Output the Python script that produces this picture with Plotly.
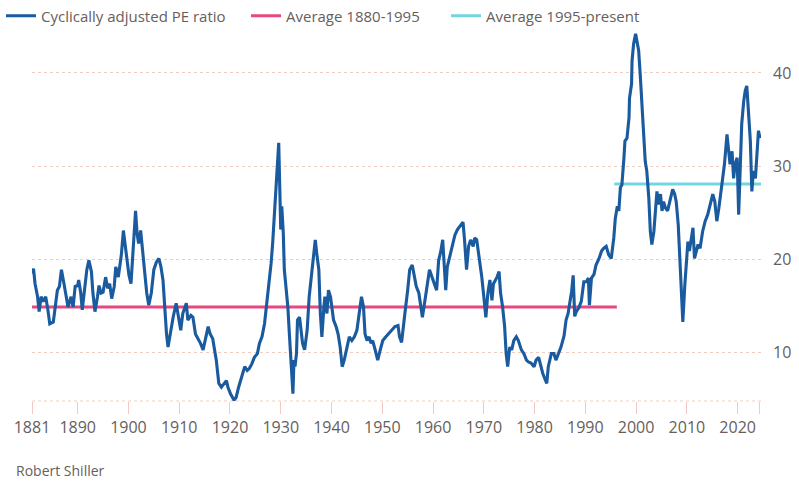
import plotly.graph_objects as go

# ---- data ----
years = [
    1881.0, 1881.3, 1881.6, 1882.1, 1882.4, 1882.8, 1883.2, 1883.7, 1884.1, 1884.5,
    1885.2, 1885.6, 1886.0, 1886.4, 1886.8, 1887.3, 1887.6, 1888.1, 1888.7, 1889.1,
    1889.5, 1890.0, 1890.2, 1890.6, 1890.9, 1891.4, 1891.8, 1892.2, 1892.7, 1893.0,
    1893.4, 1893.9, 1894.2, 1894.6, 1895.0, 1895.5, 1895.9, 1896.3, 1896.7, 1897.2,
    1897.5, 1898.0, 1898.3, 1898.6, 1899.0, 1899.4, 1899.8, 1900.1, 1900.5, 1900.8,
    1901.1, 1901.4, 1901.7, 1902.0, 1902.4, 1902.7, 1903.1, 1903.6, 1904.0, 1904.5,
    1905.0, 1905.5, 1906.0, 1906.4, 1906.8, 1907.1, 1907.5, 1907.8, 1908.3, 1908.8,
    1909.4, 1909.9, 1910.3, 1910.7, 1911.4, 1911.7, 1912.3, 1912.7, 1913.2, 1913.7,
    1914.2, 1914.7, 1915.1, 1915.7, 1916.1, 1916.6, 1917.3, 1917.8, 1918.3, 1918.8,
    1919.3, 1919.6, 1920.1, 1920.8, 1921.2, 1921.7, 1922.3, 1922.9, 1923.4, 1923.8,
    1924.3, 1924.8, 1925.4, 1925.8, 1926.3, 1926.8, 1927.3, 1927.8, 1928.1, 1928.4,
    1928.8, 1929.1, 1929.3, 1929.6, 1929.8, 1930.0, 1930.2, 1930.5, 1930.7, 1931.1,
    1931.4, 1931.7, 1932.0, 1932.4, 1932.6, 1932.8, 1933.1, 1933.3, 1933.7, 1934.0,
    1934.3, 1934.7, 1935.2, 1935.6, 1936.0, 1936.4, 1936.8, 1937.1, 1937.5, 1937.8,
    1938.1, 1938.5, 1938.7, 1939.1, 1939.4, 1939.8, 1940.1, 1940.4, 1940.9, 1941.3,
    1941.7, 1942.1, 1942.5, 1943.0, 1943.5, 1944.0, 1944.5, 1945.0, 1945.5, 1945.9,
    1946.3, 1946.6, 1947.0, 1947.4, 1947.8, 1948.1, 1948.6, 1949.1, 1949.6, 1950.1,
    1950.7, 1951.2, 1951.8, 1952.5, 1953.1, 1953.4, 1953.8, 1954.1, 1954.6, 1955.0,
    1955.4, 1955.9, 1956.3, 1956.7, 1957.2, 1957.6, 1957.9, 1958.4, 1958.9, 1959.3,
    1959.8, 1960.2, 1960.7, 1961.1, 1961.5, 1961.9, 1962.3, 1962.5, 1962.8, 1963.3,
    1963.7, 1964.3, 1964.8, 1965.2, 1965.9, 1966.2, 1966.6, 1967.0, 1967.4, 1967.9,
    1968.2, 1968.6, 1968.9, 1969.2, 1969.6, 1970.0, 1970.4, 1970.8, 1971.2, 1971.6,
    1971.9, 1972.3, 1972.6, 1973.0, 1973.3, 1973.7, 1974.1, 1974.4, 1974.7, 1975.1,
    1975.5, 1975.9, 1976.4, 1976.8, 1977.4, 1977.9, 1978.4, 1978.8, 1979.3, 1979.9,
    1980.3, 1980.8, 1981.2, 1981.6, 1982.1, 1982.4, 1982.7, 1983.3, 1983.8, 1984.2,
    1984.7, 1985.2, 1985.8, 1986.2, 1986.6, 1987.0, 1987.3, 1987.6, 1987.9, 1988.2,
    1988.7, 1989.2, 1989.7, 1990.2, 1990.6, 1990.8, 1991.2, 1991.7, 1992.1, 1992.7,
    1993.2, 1993.6, 1994.1, 1994.6, 1995.1, 1995.6, 1995.9, 1996.3, 1996.6, 1996.9,
    1997.2, 1997.6, 1997.8, 1998.2, 1998.6, 1998.7, 1999.1, 1999.2, 1999.5, 1999.9,
    2000.2, 2000.5, 2000.8, 2001.2, 2001.5, 2001.8, 2002.1, 2002.5, 2002.8, 2003.1,
    2003.5, 2003.8, 2004.1, 2004.4, 2004.8, 2005.1, 2005.4, 2005.8, 2006.2, 2006.5,
    2006.9, 2007.2, 2007.6, 2007.9, 2008.3, 2008.6, 2008.9, 2009.2, 2009.6, 2009.9,
    2010.2, 2010.5, 2010.9, 2011.2, 2011.5, 2011.9, 2012.2, 2012.6, 2013.1, 2013.6,
    2014.1, 2014.6, 2015.1, 2015.5, 2015.9, 2016.3, 2016.7, 2017.0, 2017.4, 2017.9,
    2018.2, 2018.5, 2018.9, 2019.2, 2019.5, 2019.9, 2020.2, 2020.5, 2020.8, 2021.2,
    2021.5, 2021.8, 2022.1, 2022.5, 2022.8, 2023.1, 2023.5, 2023.8, 2024.1, 2024.4,
]
cape = [
    18.5, 19.0, 17.4, 16.0, 14.4, 16.0, 15.5, 16.0, 14.7, 13.1,
    13.3, 14.9, 16.7, 17.1, 18.9, 17.4, 16.4, 14.9, 16.0, 14.9,
    17.1, 17.2, 17.8, 16.4, 14.6, 16.7, 18.9, 19.9, 18.7, 16.4,
    14.4, 16.0, 17.2, 16.4, 16.5, 18.1, 16.9, 17.4, 15.8, 17.1,
    19.2, 18.1, 19.2, 20.5, 23.1, 21.4, 19.2, 18.3, 17.4, 20.3,
    23.1, 25.2, 22.8, 21.7, 23.1, 21.4, 19.6, 16.4, 15.1, 16.4,
    18.9, 19.7, 20.1, 19.2, 17.8, 14.9, 12.0, 10.6, 12.4, 13.8,
    15.3, 13.8, 12.4, 14.2, 15.3, 13.5, 14.0, 13.8, 12.0, 11.5,
    11.0, 10.3, 11.3, 12.8, 12.0, 11.5, 9.2, 6.7, 6.3, 6.7,
    7.0, 6.3, 5.6, 4.9, 5.2, 6.3, 7.4, 8.5, 8.1, 8.3,
    8.8, 9.5, 9.9, 11.0, 11.7, 13.1, 15.6, 17.8, 19.6, 21.7,
    25.3, 27.8, 29.6, 32.5, 27.8, 23.2, 25.7, 22.8, 18.9, 16.4,
    14.9, 12.0, 9.2, 5.6, 9.2, 8.5, 9.9, 13.5, 13.8, 12.0,
    11.0, 10.3, 12.4, 16.0, 18.1, 19.9, 22.1, 20.6, 18.9, 14.2,
    11.7, 14.9, 16.0, 14.2, 16.7, 16.0, 14.6, 13.5, 12.8, 12.0,
    10.6, 8.5, 9.2, 10.6, 11.7, 11.3, 11.7, 12.4, 14.2, 16.0,
    14.9, 12.0, 11.3, 11.7, 11.0, 11.3, 10.3, 9.2, 10.3, 11.3,
    11.7, 12.0, 12.4, 12.8, 12.9, 11.7, 11.1, 12.8, 14.9, 16.7,
    18.9, 19.4, 18.1, 17.1, 16.4, 14.9, 13.8, 15.6, 17.8, 18.9,
    18.1, 17.4, 16.7, 19.9, 20.8, 22.1, 18.1, 16.7, 19.2, 20.3,
    21.4, 22.6, 23.2, 23.5, 24.0, 22.1, 18.9, 21.4, 22.1, 21.4,
    22.3, 22.1, 21.0, 19.6, 18.1, 16.0, 13.8, 16.4, 17.8, 15.6,
    17.4, 17.8, 18.1, 18.7, 16.4, 14.9, 12.8, 9.9, 8.5, 10.6,
    10.3, 11.3, 11.7, 11.3, 10.3, 9.9, 9.2, 9.0, 8.9, 8.5,
    9.2, 9.5, 8.5, 7.8, 7.1, 6.7, 8.5, 9.9, 9.9, 9.2,
    9.9, 10.6, 11.8, 13.5, 14.2, 15.5, 16.6, 18.3, 13.9, 14.4,
    14.8, 15.5, 17.6, 17.6, 18.0, 15.1, 18.0, 18.4, 19.4, 20.1,
    20.9, 21.2, 21.4, 20.5, 20.1, 22.3, 24.4, 25.7, 25.2, 27.7,
    28.0, 30.9, 32.7, 33.0, 35.2, 37.3, 38.8, 41.3, 43.1, 44.2,
    43.4, 42.4, 39.9, 36.3, 33.0, 30.5, 29.5, 26.6, 23.0, 21.6,
    23.0, 25.5, 27.3, 25.9, 27.0, 25.2, 26.2, 25.5, 25.2, 25.9,
    27.0, 27.5, 27.0, 26.2, 23.7, 20.1, 15.8, 13.3, 17.3, 20.1,
    21.9, 20.9, 22.3, 23.4, 20.1, 20.9, 21.6, 21.2, 23.0, 24.1,
    24.8, 25.9, 27.0, 26.2, 24.1, 25.5, 27.3, 28.7, 30.2, 33.4,
    32.0, 30.2, 31.6, 28.7, 30.2, 30.9, 24.8, 30.9, 34.5, 37.0,
    38.1, 38.6, 35.9, 32.7, 27.3, 29.5, 28.7, 30.9, 33.8, 33.0,
]

avg_early_years = [1881.0, 1996.2]
avg_early_value = [14.9, 14.9]
avg_late_years = [1995.7, 2024.6]
avg_late_value = [28.1, 28.1]

x_tickvals = [1881, 1890, 1900, 1910, 1920, 1930, 1940, 1950, 1960, 1970,
              1980, 1990, 2000, 2010, 2020, 2024.3]
x_ticktext = ["1881", "1890", "1900", "1910", "1920", "1930", "1940", "1950",
              "1960", "1970", "1980", "1990", "2000", "2010", "2020", ""]
y_tickvals = [10, 20, 30, 40]

# ---- styles ----
FONT = "Open Sans"
TEXT = "#66605c"
BLUE = "#1a5a9e"
PINK = "#e8477f"
CYAN = "#72d5e0"

fig = go.Figure()
fig.add_trace(go.Scatter(
    x=avg_early_years, y=avg_early_value, mode="lines", name="Average 1880-1995",
    line=dict(color=PINK, width=3), legend="legend2", hoverinfo="skip"))
fig.add_trace(go.Scatter(
    x=avg_late_years, y=avg_late_value, mode="lines", name="Average 1995-present",
    line=dict(color=CYAN, width=3), legend="legend3", hoverinfo="skip"))
fig.add_trace(go.Scatter(
    x=years, y=cape, mode="lines", name="Cyclically adjusted PE ratio",
    line=dict(color=BLUE, width=3.1), legend="legend"))

L, R, T, B = 32, 38, 30, 103
W, H = 799, 504
pw, ph = W - L - R, H - T - B

def cx(p):
    return p / W

def cy(p):
    return 1 - p / H

def px_x(p):
    return (p - L) / pw

def px_y(p):
    return (H - B - p) / ph

legend_common = dict(
    orientation="h", yanchor="middle", xanchor="left",
    xref="container", yref="container",
    font=dict(family=FONT, size=15, color=TEXT),
    bgcolor="rgba(0,0,0,0)", borderwidth=0,
)

fig.update_layout(
    width=W, height=H, autosize=False,
    margin=dict(l=L, r=R, t=T, b=B, pad=0, autoexpand=False),
    paper_bgcolor="white", plot_bgcolor="white",
    font=dict(family=FONT, color=TEXT),
    showlegend=True,
    legend=dict(x=cx(1), y=cy(16), **legend_common),
    legend2=dict(x=cx(246), y=cy(16), **legend_common),
    legend3=dict(x=cx(446), y=cy(16), **legend_common),
    xaxis=dict(
        range=[1881, 2024.6], tickvals=x_tickvals, ticktext=x_ticktext,
        ticks="outside", ticklen=12, tickcolor="#f1c9c2", tickwidth=1,
        showgrid=False, zeroline=False, showline=False, automargin=False,
        tickfont=dict(family=FONT, size=16, color=TEXT),
        fixedrange=True,
    ),
    yaxis=dict(
        range=[4.82, 44.6], tickvals=y_tickvals, side="right",
        showgrid=True, gridcolor="#f0cdbf", griddash="dot", gridwidth=1,
        zeroline=False, showline=False, ticks="", automargin=False,
        ticklabelstandoff=11,
        tickfont=dict(family=FONT, size=16, color=TEXT),
        fixedrange=True,
    ),
    shapes=[dict(type="line", xref="paper", yref="paper", x0=0, x1=1, y0=0, y1=0,
                 line=dict(color="#f0cdbf", width=1, dash="dot"), layer="below")],
    annotations=[dict(text="Robert Shiller", xref="paper", yref="paper",
                      x=px_x(14), y=px_y(470), xanchor="left", yanchor="middle",
                      showarrow=False, font=dict(family=FONT, size=14, color=TEXT))],
)

fig.write_html("out.html")
